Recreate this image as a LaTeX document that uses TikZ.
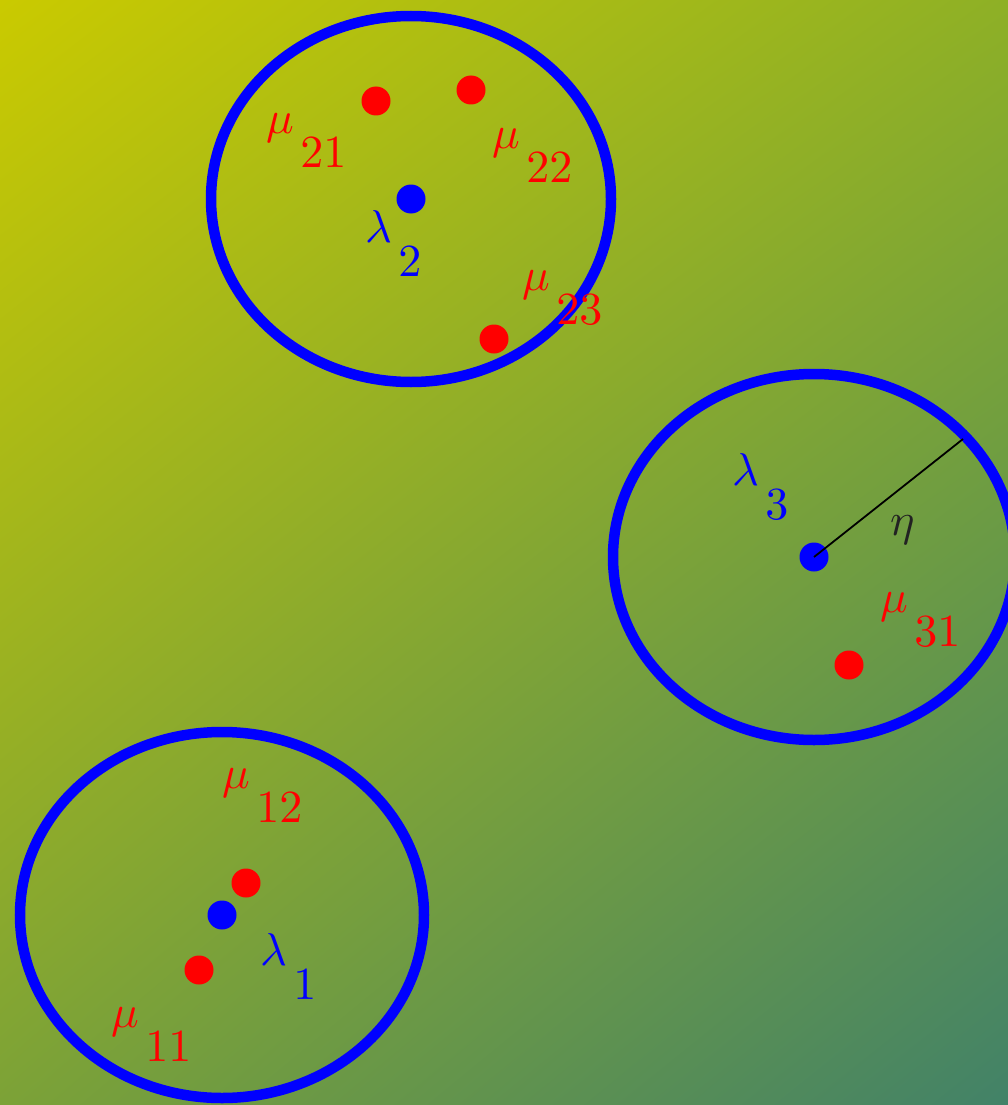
\documentclass[tikz,border=0pt]{standalone}
\usepackage{graphicx}
\usetikzlibrary{calc,shadings,shapes.geometric}
\definecolor{cA}{RGB}{202,202,0}
\definecolor{cB}{RGB}{66,130,104}
\definecolor{cUR}{RGB}{142,176,38}
\definecolor{cLL}{RGB}{124,162,55}
\definecolor{etacol}{RGB}{34,34,34}
\newcommand\twolab[2]{\scalebox{4.6}{$#1$\hspace{0.14em}\raisebox{-0.76em}{$#2$}}}
\newcommand\onelab[1]{\scalebox{4.6}{$#1$}}
\tikzset{
  ring/.style={draw=blue, line width=10.5pt},
  bdot/.style={circle, fill=blue, inner sep=0pt, minimum size=29pt},
  rdot/.style={circle, fill=red, inner sep=0pt, minimum size=29pt},
  lab/.style={anchor=base west, inner sep=0pt},
}
\begin{document}
\begin{tikzpicture}[x=1pt,y=-1pt]
\useasboundingbox (0,0) rectangle (1008,1105);
\clip (0,0) rectangle (1008,1105);
\shade[upper left=cA, upper right=cUR, lower left=cLL, lower right=cB] (0,0) rectangle (1008,1105);
% cluster 2
\node[ring, ellipse, minimum width=400pt, minimum height=366pt, inner sep=0pt] (e2) at (411,199) {};
\node[bdot] (l2) at (411,199) {};
\node[rdot] (m21) at (376,101) {};
\node[rdot] (m22) at (471,90) {};
\node[rdot] (m23) at (494,339) {};
% cluster 3
\node[ring, ellipse, minimum width=402pt, minimum height=366pt, inner sep=0pt] (e3) at (814,557) {};
\node[bdot] (l3) at (814,557) {};
\node[rdot] (m31) at (849,665) {};
\coordinate (etaend) at (963,439);
\draw[line width=1.8pt, black] (l3.center) -- (etaend);
% cluster 1
\node[ring, ellipse, minimum width=404pt, minimum height=366pt, inner sep=0pt] (e1) at (222,915) {};
\node[bdot] (l1) at (222,915) {};
\node[rdot] (m12) at (246,883) {};
\node[rdot] (m11) at (199,970) {};
% labels
\node[lab, text=red] (t21) at (266,133) {\twolab{\mu}{21}};
\node[lab, text=red] (t22) at (492,148) {\twolab{\mu}{22}};
\node[lab, text=red] (t23) at (522,290) {\twolab{\mu}{23}};
\node[lab, text=blue] (tl2) at (365,242) {\twolab{\lambda}{2}};
\node[lab, text=blue] (tl3) at (732,485) {\twolab{\lambda}{3}};
\node[lab, text=etacol] (teta) at (890,535) {\onelab{\eta}};
\node[lab, text=red] (t31) at (880,612) {\twolab{\mu}{31}};
\node[lab, text=red] (t12) at (222,788) {\twolab{\mu}{12}};
\node[lab, text=blue] (tl1) at (260,965) {\twolab{\lambda}{1}};
\node[lab, text=red] (t11) at (111,1027) {\twolab{\mu}{11}};
\end{tikzpicture}
\end{document}
